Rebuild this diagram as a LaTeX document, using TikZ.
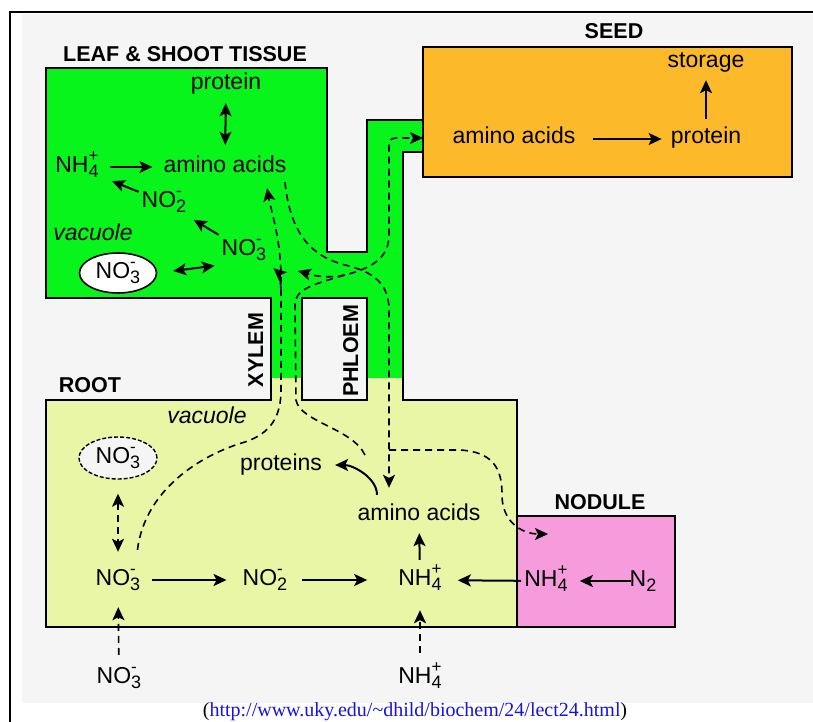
\documentclass[tikz,border=0pt]{standalone}
\usepackage{fontspec}
\setmainfont{Liberation Sans}
\newfontfamily\urlfont{Liberation Serif}
\usetikzlibrary{arrows.meta,shapes.geometric}

\definecolor{bggray}{RGB}{245,245,245}
\definecolor{leafgreen}{RGB}{8,245,28}
\definecolor{rootyellow}{RGB}{232,246,166}
\definecolor{seedorange}{RGB}{252,186,42}
\definecolor{nodulepink}{RGB}{246,156,220}
\definecolor{linkblue}{RGB}{20,20,230}

% ion with stacked charge and index
\newcommand{\ion}[3]{#1\rlap{\raisebox{0.45em}{\fontsize{17}{17}\selectfont #3}}\raisebox{-0.25em}{\fontsize{18}{18}\selectfont #2}}

\begin{document}
\begin{tikzpicture}[
    x=1pt, y=-1pt,
    every node/.style={font=\fontsize{23}{27}\selectfont, inner sep=3pt, text height=17pt, text depth=7pt},
    tissuelabel/.style={font=\fontsize{21.5}{25}\selectfont\bfseries},
    italiclabel/.style={font=\fontsize{23}{27}\selectfont\itshape},
    box/.style={line width=1.6pt},
    arr/.style={-{Stealth[length=13pt,width=12pt,inset=3pt]}, line width=2pt},
    arrboth/.style={{Stealth[length=13pt,width=12pt,inset=3pt]}-{Stealth[length=13pt,width=12pt,inset=3pt]}, line width=2pt},
    flow/.style={dash pattern=on 7pt off 5pt, line width=1.6pt},
    flowarr/.style={flow, -{Stealth[length=13pt,width=12pt,inset=3pt]}}
]

% Background and frame
\useasboundingbox (0,0) rectangle (813,722);
\fill[white] (0,0) rectangle (813,722);
\fill[bggray] (22,14) rectangle (813,703);
\draw[line width=2.5pt] (10,722) -- (10,12) -- (813,12);

% Leaf, stem and root
\fill[leafgreen] (46,68) -- (327,68) -- (327,252) -- (367,252) -- (367,120) -- (423,120) -- (423,152)
    -- (403,152) -- (403,378) -- (271,378) -- (271,298) -- (46,298) -- cycle;
\fill[rootyellow] (46,400) -- (271,400) -- (271,378) -- (403,378) -- (403,400) -- (517,400)
    -- (517,627) -- (46,627) -- cycle;
\draw[box] (423,120) -- (367,120) -- (367,252) -- (327,252) -- (327,68) -- (46,68) -- (46,298)
    -- (271,298) -- (271,400) -- (46,400) -- (46,627) -- (517,627) -- (517,400) -- (403,400)
    -- (403,152) -- (423,152);
\draw[box, fill=bggray] (302,298) rectangle (367,400);

% Seed and nodule
\draw[box, fill=seedorange] (423,47) rectangle (792,177);
\draw[box, fill=nodulepink] (517,516) rectangle (675,627);

% Tissue labels
\node[tissuelabel, anchor=base] (leaftitle) at (185,62) {LEAF \& SHOOT TISSUE};
\node[tissuelabel, anchor=base] (seedtitle) at (614,39) {SEED};
\node[tissuelabel, anchor=base] (roottitle) at (90,392) {ROOT};
\node[tissuelabel, anchor=base] (noduletitle) at (600,509) {NODULE};
\node[tissuelabel, rotate=90] (xylemlabel) at (258,350) {XYLEM};
\node[tissuelabel, rotate=90] (phloemlabel) at (353,351) {PHLOEM};

% Leaf
\node[anchor=base] (lprot) at (226,90) {protein};
\node[anchor=base] (lamino) at (225,172) {amino acids};
\node[anchor=base] (lnh4) at (77,172) {\ion{NH}{4}{+}};
\node[anchor=base] (lno2) at (164,207) {\ion{NO}{2}{-}};
\node[italiclabel, anchor=base] (lvac) at (93,240) {vacuole};
\node[anchor=base] (lno3) at (244,255) {\ion{NO}{3}{-}};
\node[ellipse, draw, fill=white, line width=1.6pt, minimum width=77pt, minimum height=40pt, inner sep=0pt] (lstore) at (118,273) {\ion{NO}{3}{-}};

\draw[arrboth, shorten <=3pt, shorten >=7pt] (lprot) -- (lamino);
\draw[arr, shorten <=8pt, shorten >=8pt] (lnh4) -- (lamino);
\draw[arr, shorten >=11pt] (lno2) -- (lnh4);
\draw[arr, shorten >=5pt] (lno3.north west) -- (lno2.south east);
\draw[arrboth, shorten <=16pt, shorten >=4pt] (lstore.east) -- (lno3.south west);

% Seed
\node[anchor=base] (sstore) at (706,68) {storage};
\node[anchor=base] (samino) at (514,144) {amino acids};
\node[anchor=base] (sprot) at (706,144) {protein};

\draw[arr, shorten <=14pt, shorten >=6pt] (samino) -- (sprot);
\draw[arr, shorten <=5pt, shorten >=2pt] (sprot) -- (sstore);

% Root
\node[italiclabel, anchor=base] (rvac) at (207,423) {vacuole};
\node[ellipse, draw, dash pattern=on 4pt off 2pt, fill=bggray, line width=1.4pt, minimum width=78pt, minimum height=42pt, inner sep=0pt] (rstore) at (118,458) {\ion{NO}{3}{-}};
\node[anchor=base] (rprot) at (281,470) {proteins};
\node[anchor=base] (ramino) at (419,520) {amino acids};
\node[anchor=base] (rno3) at (118,585) {\ion{NO}{3}{-}};
\node[anchor=base] (rno2) at (265,585) {\ion{NO}{2}{-}};
\node[anchor=base] (rnh4) at (420,585) {\ion{NH}{4}{+}};
\node[anchor=base] (bno3) at (119,683) {\ion{NO}{3}{-}};
\node[anchor=base] (bnh4) at (420,683) {\ion{NH}{4}{+}};

% Nodule
\node[anchor=base] (nnh4) at (546,586) {\ion{NH}{4}{+}};
\node[anchor=base] (nn2) at (643,586) {N\raisebox{-0.25em}{\fontsize{18}{18}\selectfont 2}};

\draw[arr, shorten <=9pt, shorten >=13pt] (rno3) -- (rno2);
\draw[arr, shorten <=12pt, shorten >=28pt] (rno2) -- (rnh4);
\draw[arr, shorten <=5pt, shorten >=3pt] (rnh4) -- (ramino);
\draw[arr, shorten >=13pt] (nnh4) -- (rnh4);
\draw[arr, shorten <=-5pt, shorten >=9pt] (nn2) -- (nnh4);
\draw[arrboth, flow, shorten <=14pt, shorten >=13pt] (rstore) -- (rno3);
\draw[arr, flow, shorten <=8pt, shorten >=12pt] (bno3) -- (rno3);
\draw[arr, flow, shorten <=10pt, shorten >=15pt] (bnh4) -- (rnh4);
\draw[arr] ([xshift=-42pt,yshift=5pt]ramino.north) .. controls +(0,-17) and +(18,0) .. ([xshift=10pt]rprot.east);

% Transport through xylem and phloem
\coordinate (xylbranch) at (281,296);
\coordinate (rootjoin) at (365,455);
\coordinate (seedin) at (423,138);
\coordinate (phlbranch) at (389,450);
\coordinate (nodin) at (548,534);
\coordinate (stemjoin) at (345,275);
\coordinate (leafout) at (298,271);

\draw[flowarr] ([xshift=-6pt,yshift=15pt]rno3.north east) .. controls (145,490) and (200,455) .. (245,442)
    .. controls (272,433) and (281,415) .. (281,390) -- (xylbranch) -- (281,280)
    .. controls (281,240) and (272,215) .. ([xshift=42pt,yshift=-6pt]lamino.south);
\draw[arr, line width=1.6pt] (xylbranch) .. controls (281,282) and (279,273) .. ([xshift=4pt,yshift=-3pt]lno3.south east);

\draw[flowarr] (rootjoin) .. controls (352,428) and (300,422) .. (296,400) -- (295,305)
    .. controls (295,290) and (310,285) .. (stemjoin) .. controls (372,268) and (389,258) .. (389,235)
    -- (389,146) .. controls (389,140) and (391,138) .. (397,138) -- (seedin);
\draw[flowarr] (stemjoin) .. controls (325,279) and (312,275) .. (leafout);

\draw[flowarr] ([xshift=60pt]lamino.south) .. controls (290,232) and (310,256) .. (345,265)
    .. controls (375,272) and (389,285) .. (389,310) -- (phlbranch) -- ([xshift=-30pt,yshift=12pt]ramino.north);
\draw[flowarr] (phlbranch) -- (460,450) .. controls (498,452) and (502,475) .. (502,495)
    .. controls (502,522) and (522,534) .. (nodin);

% Source
\node[font=\urlfont\fontsize{20}{22}\selectfont, anchor=base, text height=14pt, text depth=4pt, inner sep=0pt] (source) at (415,716) {(\textcolor{linkblue}{http://www.uky.edu/\textasciitilde dhild/biochem/24/lect24.html})};

\end{tikzpicture}
\end{document}
